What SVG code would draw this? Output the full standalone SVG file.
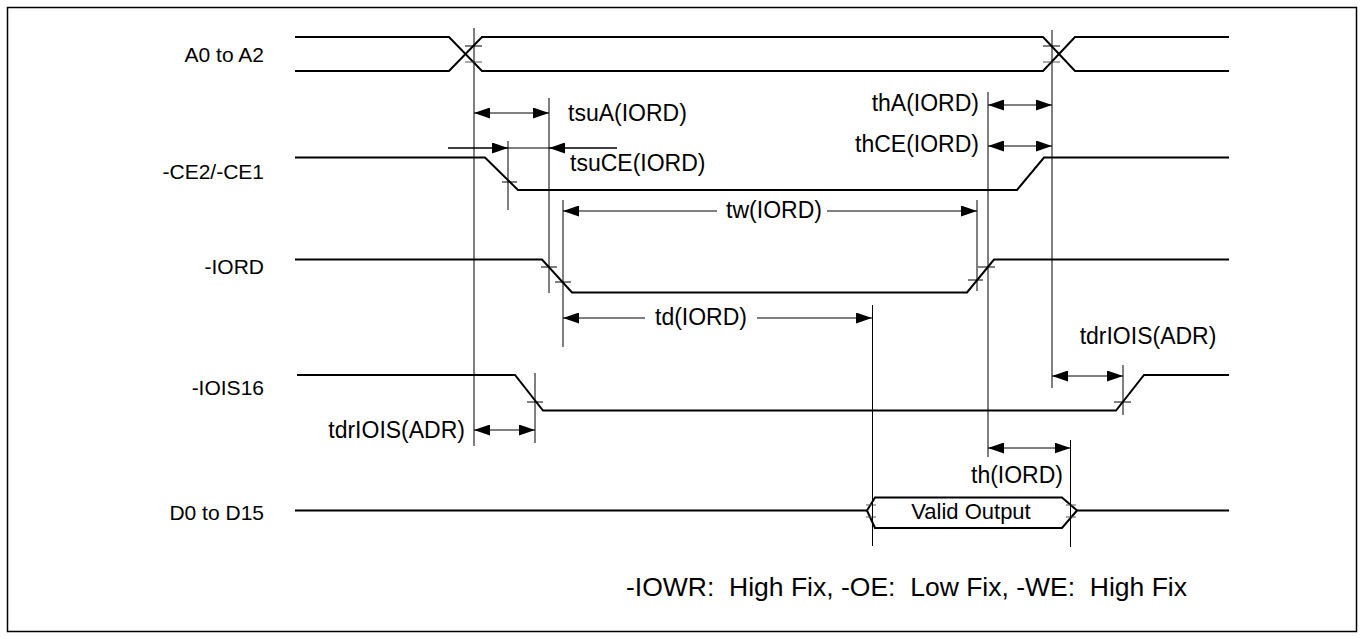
<svg xmlns="http://www.w3.org/2000/svg" width="1364" height="639" viewBox="0 0 1364 639">
<style>
.sig{fill:none;stroke:#000;stroke-width:2}
.dim{fill:none;stroke:#000;stroke-width:1}
.tick{fill:none;stroke:#000;stroke-width:1}
.tg{fill:none;stroke:#555;stroke-width:1}
.lbl{font-family:"Liberation Sans",Arial,sans-serif;font-size:21px;fill:#000}
.tl{font-family:"Liberation Sans",Arial,sans-serif;font-size:23px;fill:#000}
.da{fill:none;stroke:#000;stroke-width:1;marker-end:url(#ah)}
.dd{fill:none;stroke:#000;stroke-width:1;marker-start:url(#ah);marker-end:url(#ah)}
</style>
<defs>
<marker id="ah" viewBox="0 0 16 11" refX="16" refY="5.5" markerWidth="16" markerHeight="11" markerUnits="userSpaceOnUse" orient="auto-start-reverse">
<path d="M0,0 L16,5.5 L0,11 z" fill="#000"/>
</marker>
</defs>
<rect x="7.5" y="7.5" width="1349" height="624" fill="#fff" stroke="#000" stroke-width="1.5"/>

<g id="sig-a0">
<text class="lbl" x="264" y="62" text-anchor="end">A0 to A2</text>
<path class="sig" d="M295,37 H449 L482,71 H1043 L1075,37 H1229"/>
<path class="sig" d="M295,71 H449 L482,37 H1043 L1075,71 H1229"/>
<path class="tick" d="M465,46 H482 M1043,46 H1060"/>
<path class="tg" d="M465,62 H482 M1043,62 H1060"/>
</g>

<g id="sig-ce">
<text class="lbl" x="264" y="179" text-anchor="end">-CE2/-CE1</text>
<path class="sig" d="M295,157.5 H485 L518,190 H1017 L1044,157.5 H1229"/>
<path class="tick" d="M502,182 H517"/>
</g>

<g id="sig-iord">
<text class="lbl" x="264" y="274" text-anchor="end">-IORD</text>
<path class="sig" d="M295,259.5 H542 L572,292.5 H967 L994,259.5 H1229"/>
<path class="tick" d="M541,267 H557 M555,282 H571 M978,267 H995 M968,280 H983"/>
</g>

<g id="sig-iois">
<text class="lbl" x="264" y="395" text-anchor="end">-IOIS16</text>
<path class="sig" d="M297,375 H515 L543,410.5 H1116 L1144,375 H1229"/>
<path class="tick" d="M527,402 H543 M1114,402 H1131"/>
</g>

<g id="sig-d">
<text class="lbl" x="264" y="520" text-anchor="end">D0 to D15</text>
<path class="sig" d="M295,510.5 H867 M1077,510.5 H1229"/>
<path class="sig" d="M867,510.5 L875,497.5 H1062 L1077,510.5 L1062,528 H875 Z"/>
<path class="tg" d="M866,505 H876 M866,517 H876 M1066,505 H1076 M1066,517 H1076"/>
<text class="lbl" x="971" y="519" text-anchor="middle" style="font-size:22px">Valid Output</text>
</g>

<g id="connectors">
<path class="dim" d="M474,28 V446"/>
<path class="dim" d="M549,98 V293"/>
<path class="dim" d="M508,141 V210"/>
<path class="dim" d="M563,200 V347"/>
<path class="dim" d="M977,200 V291"/>
<path class="dim" d="M988,92 V457"/>
<path class="dim" d="M1052,30 V388"/>
<path class="dim" d="M1123,365 V415"/>
<path class="dim" d="M535,373 V443"/>
<path class="dim" d="M872.5,305 V546"/>
<path class="dim" d="M1070.5,440 V547"/>

<path class="dd" d="M474,113 H549"/>
<path class="dim" d="M448,148 H617"/>
<path class="da" d="M448,148 H508"/>
<path class="da" d="M617,148 H549"/>
<path class="da" d="M717,211 H563"/>
<path class="da" d="M827,211 H977"/>
<path class="da" d="M645,318 H563"/>
<path class="da" d="M757,318 H872"/>
<path class="dd" d="M988,105 H1052"/>
<path class="dd" d="M988,146 H1052"/>
<path class="dd" d="M1052,376 H1123"/>
<path class="dd" d="M474,430 H535"/>
<path class="dd" d="M988,448 H1070.5"/>
</g>

<g id="labels">
<text class="tl" x="568" y="121">tsuA(IORD)</text>
<text class="tl" x="570" y="171">tsuCE(IORD)</text>
<text class="tl" x="774" y="218" text-anchor="middle">tw(IORD)</text>
<text class="tl" x="701" y="325" text-anchor="middle">td(IORD)</text>
<text class="tl" x="979" y="111" text-anchor="end">thA(IORD)</text>
<text class="tl" x="979" y="152" text-anchor="end">thCE(IORD)</text>
<text class="tl" x="1148" y="344" text-anchor="middle">tdrIOIS(ADR)</text>
<text class="tl" x="465" y="438" text-anchor="end">tdrIOIS(ADR)</text>
<text class="tl" x="1063" y="483" text-anchor="end">th(IORD)</text>
<text class="lbl" x="626" y="596" style="font-size:26.5px" xml:space="preserve">-IOWR:  High Fix, -OE:  Low Fix, -WE:  High Fix</text>
</g>
</svg>
